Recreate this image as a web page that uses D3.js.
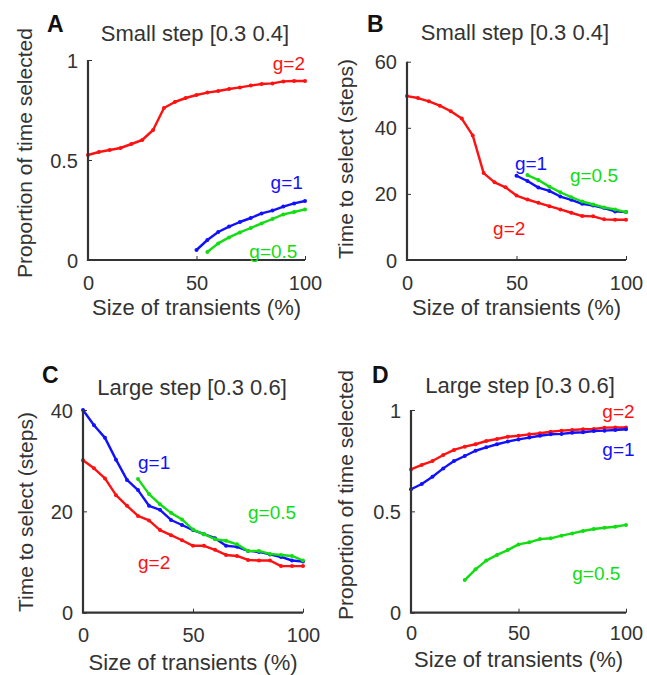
<!DOCTYPE html>
<html>
<head>
<meta charset="utf-8">
<script src="https://cdn.jsdelivr.net/npm/d3@7"></script>
<style>
  html, body { margin: 0; padding: 0; background: #fff; }
  svg { display: block; font-family: "Liberation Sans", Arial, sans-serif; }
</style>
</head>
<body>
<svg id="chart" width="647" height="675"></svg>
<script>
// ---------- data ----------
const xAll   = [0,5,10,15,20,25,30,35,40,45,50,55,60,65,70,75,80,85,90,95,100];
const xFrom25 = [25,30,35,40,45,50,55,60,65,70,75,80,85,90,95,100];
const xFrom50 = [50,55,60,65,70,75,80,85,90,95,100];
const xFrom55 = [55,60,65,70,75,80,85,90,95,100];

// Panel A: small step, proportion of time selected
const A_g2  = [0.525,0.54,0.55,0.56,0.58,0.60,0.65,0.76,0.79,0.81,0.825,0.837,0.845,0.855,0.863,0.872,0.88,0.883,0.893,0.895,0.895];
const A_g1  = [0.05,0.10,0.14,0.167,0.19,0.21,0.233,0.247,0.267,0.283,0.295];
const A_g05 = [0.04,0.083,0.113,0.138,0.16,0.183,0.205,0.228,0.24,0.253];

// Panel B: small step, time to select
const B_g2  = [49.6,49,48,46.7,45,42.8,37.7,26.3,23.5,22,19.5,18.3,17.3,16.3,15.3,14.3,13.3,13.2,12.3,12.2,12.2];
const B_g1  = [25.5,23.9,21.9,20.9,19.2,18.2,17,16.5,15.7,14.7,14.5];
const B_g05 = [25.7,24.2,22.2,20.5,19,17.7,16.8,15.9,15.3,14.5];

// Panel C: large step, time to select
const C_g1  = [40,37,34.5,30.2,26.2,24.2,21.1,20.3,18.3,17.3,16.3,15.5,14.7,13.2,13,12.2,12,11.5,11,10.3,10.1];
const C_g05 = [26.4,23.4,21.4,19.7,18.4,16.4,15.5,14.5,14.2,13.5,12.2,12.2,11.6,11.4,11.2,10.3];
const C_g2  = [30.1,28.5,26.5,23.2,21.1,19.1,18.2,16.3,15.3,14.3,13.2,13.2,12.4,11.4,11.2,10.4,10.3,10.3,9.2,9.2,9.2];

// Panel D: large step, proportion of time selected
const D_g2  = [0.707,0.729,0.748,0.778,0.803,0.819,0.831,0.847,0.857,0.868,0.873,0.88,0.885,0.893,0.898,0.901,0.905,0.906,0.913,0.914,0.914];
const D_g1  = [0.609,0.635,0.671,0.712,0.748,0.773,0.799,0.816,0.831,0.844,0.855,0.864,0.873,0.88,0.882,0.888,0.89,0.896,0.898,0.901,0.905];
const D_g05 = [0.161,0.214,0.257,0.285,0.309,0.337,0.347,0.363,0.367,0.38,0.391,0.403,0.413,0.419,0.424,0.433];

const xTicks = [0, 50, 100];
const yTicksProp = [0, 0.5, 1];
const yTicksTimeB = [0, 20, 40, 60];
const yTicksTimeC = [0, 20, 40];

const panelLetters = ["A", "B", "C", "D"];
const panelTitles = ["Small step [0.3 0.4]", "Small step [0.3 0.4]", "Large step [0.3 0.6]", "Large step [0.3 0.6]"];
const xLabel = "Size of transients (%)";
const yLabelProp = "Proportion of time selected";
const yLabelTime = "Time to select (steps)";

// ---------- styles ----------
const RED = "#ff1111", BLUE = "#1111ff", GREEN = "#11dd11";
const AXIS = "#333";
const TEXT = "#333";

const svg = d3.select("#chart");

const panels = [
  { letter: panelLetters[0], title: panelTitles[0], yLabel: yLabelProp,
    xr: [88, 305], yr: [260, 60], yd: [0, 1], yTicks: yTicksProp, yFmt: d => d === 0.5 ? "0.5" : d3.format("d")(d),
    letterPos: [47, 32], titleY: 41, titleX: 195, xTickY: 290, xLabY: 315, yLabX: 32, yLabC: 153,
    series: [
      { x: xAll, y: A_g2, c: RED }, { x: xFrom50, y: A_g1, c: BLUE }, { x: xFrom55, y: A_g05, c: GREEN }
    ],
    labels: [
      { t: "g=2", x: 100, y: 0.95, a: "end", c: RED },
      { t: "g=1", x: 99, y: 0.355, a: "end", c: BLUE },
      { t: "g=0.5", x: 96.5, y: 0.01, a: "end", c: GREEN }
    ] },
  { letter: panelLetters[1], title: panelTitles[1], yLabel: yLabelTime,
    xr: [407, 626], yr: [260, 61.7], yd: [0, 60], yTicks: yTicksTimeB, yFmt: d3.format("d"),
    letterPos: [367, 32], titleY: 40, titleX: 515, xTickY: 290, xLabY: 315, yLabX: 353, yLabC: 159,
    series: [
      { x: xAll, y: B_g2, c: RED }, { x: xFrom50, y: B_g1, c: BLUE }, { x: xFrom55, y: B_g05, c: GREEN }
    ],
    labels: [
      { t: "g=1", x: 49.3, y: 27.3, a: "start", c: BLUE },
      { t: "g=0.5", x: 74.4, y: 23.6, a: "start", c: GREEN },
      { t: "g=2", x: 39.3, y: 7.6, a: "start", c: RED }
    ] },
  { letter: panelLetters[2], title: panelTitles[2], yLabel: yLabelTime,
    xr: [83, 303], yr: [612.7, 410], yd: [0, 40], yTicks: yTicksTimeC, yFmt: d3.format("d"),
    letterPos: [42, 383], titleY: 395, titleX: 192, xTickY: 642, xLabY: 670, yLabX: 33, yLabC: 512,
    series: [
      { x: xAll, y: C_g2, c: RED }, { x: xAll, y: C_g1, c: BLUE }, { x: xFrom25, y: C_g05, c: GREEN }
    ],
    labels: [
      { t: "g=1", x: 25, y: 28.3, a: "start", c: BLUE },
      { t: "g=0.5", x: 75, y: 18.5, a: "start", c: GREEN },
      { t: "g=2", x: 25, y: 8.6, a: "start", c: RED }
    ] },
  { letter: panelLetters[3], title: panelTitles[3], yLabel: yLabelProp,
    xr: [411, 626], yr: [612.7, 410], yd: [0, 1], yTicks: yTicksProp, yFmt: d => d === 0.5 ? "0.5" : d3.format("d")(d),
    letterPos: [372, 383], titleY: 393, titleX: 520, xTickY: 640, xLabY: 667, yLabX: 353, yLabC: 495,
    series: [
      { x: xAll, y: D_g2, c: RED }, { x: xAll, y: D_g1, c: BLUE }, { x: xFrom25, y: D_g05, c: GREEN }
    ],
    labels: [
      { t: "g=2", x: 104, y: 0.96, a: "end", c: RED },
      { t: "g=1", x: 104, y: 0.773, a: "end", c: BLUE },
      { t: "g=0.5", x: 75, y: 0.161, a: "start", c: GREEN }
    ] }
];

panels.forEach(p => {
  const x = d3.scaleLinear().domain([0, 100]).range(p.xr);
  const y = d3.scaleLinear().domain(p.yd).range(p.yr);
  const g = svg.append("g");

  // series
  p.series.forEach(s => {
    const pts = s.x.map((xv, i) => [xv, s.y[i]]);
    g.append("path")
      .datum(pts)
      .attr("fill", "none")
      .attr("stroke", s.c)
      .attr("stroke-width", 2.4)
      .attr("stroke-linejoin", "round")
      .attr("d", d3.line().x(d => x(d[0])).y(d => y(d[1])));
    g.selectAll(null).data(pts).enter().append("circle")
      .attr("cx", d => x(d[0])).attr("cy", d => y(d[1]))
      .attr("r", 2).attr("fill", s.c);
  });

  // axes (MATLAB style: inward ticks, no box)
  const xAxis = d3.axisBottom(x).tickValues(xTicks).tickSize(-4).tickPadding(0).tickFormat(d3.format("d"));
  const yAxis = d3.axisLeft(y).tickValues(p.yTicks).tickSize(-4).tickPadding(10).tickFormat(p.yFmt);

  const gx = g.append("g").attr("transform", `translate(0,${p.yr[0]})`).call(xAxis);
  const gy = g.append("g").attr("transform", `translate(${p.xr[0]},0)`).call(yAxis);
  [gx, gy].forEach(a => {
    a.selectAll(".tick line").attr("stroke", AXIS).attr("stroke-width", 1);
    a.selectAll(".tick text").attr("fill", TEXT).style("font-size", "20px").style("font-family", "'Liberation Sans', Arial, sans-serif");
  });
  gx.select(".domain").remove();
  gy.select(".domain").remove();
  g.append("path")
    .attr("d", `M${p.xr[0]},${p.yr[1]}V${p.yr[0]}H${p.xr[1]}`)
    .attr("fill", "none").attr("stroke", AXIS).attr("stroke-width", 2.2);
  gx.selectAll(".tick text").attr("dy", null).attr("y", p.xTickY - p.yr[0]);
  gy.selectAll(".tick text").attr("dy", "0.35em");

  // series labels
  p.labels.forEach(l => {
    g.append("text")
      .attr("x", x(l.x)).attr("y", y(l.y))
      .attr("text-anchor", l.a)
      .attr("fill", l.c)
      .style("font-size", "19px")
      .text(l.t);
  });

  // title
  g.append("text")
    .attr("x", p.titleX).attr("y", p.titleY)
    .attr("text-anchor", "middle").attr("fill", TEXT)
    .style("font-size", "22px").text(p.title);

  // panel letter
  g.append("text")
    .attr("x", p.letterPos[0]).attr("y", p.letterPos[1])
    .attr("fill", "#111").style("font-size", "23px").style("font-weight", "bold")
    .text(p.letter);

  // x label
  g.append("text")
    .attr("x", (p.xr[0] + p.xr[1]) / 2).attr("y", p.xLabY)
    .attr("text-anchor", "middle").attr("fill", TEXT)
    .style("font-size", "22px").text(xLabel);

  // y label
  g.append("text")
    .attr("transform", `translate(${p.yLabX},${p.yLabC}) rotate(-90)`)
    .attr("text-anchor", "middle").attr("fill", TEXT)
    .style("font-size", "21px").text(p.yLabel);
});
</script>
</body>
</html>
